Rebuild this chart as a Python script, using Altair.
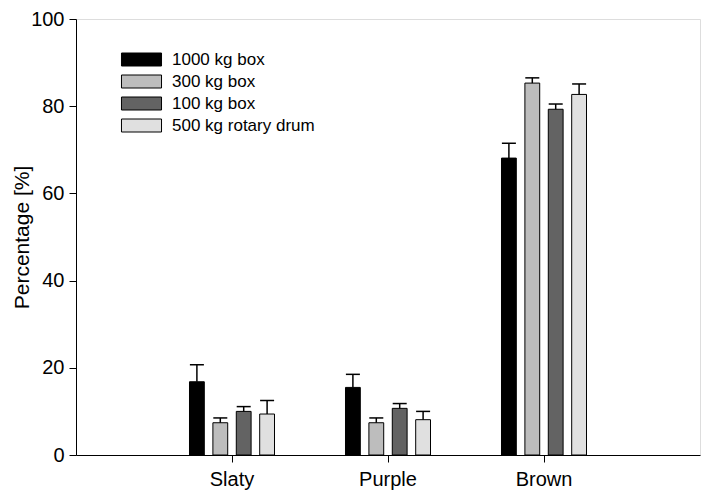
import altair as alt
import pandas as pd

categories = ["Slaty", "Purple", "Brown"]
series = ["1000 kg box", "300 kg box", "100 kg box", "500 kg rotary drum"]
colors = ["#000000", "#bdbdbd", "#636363", "#e0e0e0"]

val_1000 = [16.8, 15.5, 68.1]
err_1000 = [3.9, 3.0, 3.4]
val_300 = [7.4, 7.4, 85.3]
err_300 = [1.1, 1.1, 1.2]
val_100 = [10.0, 10.7, 79.3]
err_100 = [1.1, 1.1, 1.2]
val_500 = [9.4, 8.1, 82.7]
err_500 = [3.1, 1.9, 2.4]

vals = [val_1000, val_300, val_100, val_500]
errs = [err_1000, err_300, err_100, err_500]

rows = []
for s, v, e in zip(series, vals, errs):
    for c, vv, ee in zip(categories, v, e):
        rows.append({"Category": c, "Series": s, "Value": vv, "Upper": vv + ee})
df = pd.DataFrame(rows)

FONT = "Liberation Sans"

x_scale = alt.Scale(domain=categories, paddingInner=0.365, paddingOuter=0.6825)
xoff_scale = alt.Scale(domain=series, paddingInner=0.367, paddingOuter=0.3)

x_enc = alt.X("Category:N", sort=categories, scale=x_scale,
              axis=alt.Axis(title=None, labelAngle=0, labelFontSize=20, labelFont=FONT,
                            labelColor="black", tickSize=7, tickColor="black",
                            domainColor="black", labelPadding=7))
xoff = alt.XOffset("Series:N", sort=series, scale=xoff_scale)
y_scale = alt.Scale(domain=[0, 100], nice=False, zero=True)

bars = alt.Chart(df).mark_bar(stroke="black", strokeWidth=1).encode(
    x=x_enc,
    xOffset=xoff,
    y=alt.Y("Value:Q", scale=y_scale,
            axis=alt.Axis(title="Percentage [%]", values=[0, 20, 40, 60, 80, 100],
                          grid=False, tickSize=7, tickColor="black", domainColor="black",
                          labelFontSize=20, labelFont=FONT, labelColor="black",
                          labelPadding=5, titleFont=FONT, titleFontSize=21,
                          titleFontWeight="normal", titleColor="black",
                          titleX=-44, titleY=218, titleAngle=270,
                          titleBaseline="bottom", titleAlign="center")),
    fill=alt.Fill("Series:N", sort=series,
                  scale=alt.Scale(domain=series, range=colors),
                  legend=alt.Legend(title=None, orient="none", legendX=57, legendY=32,
                                    symbolType="M-3.08,-1H3.08V1H-3.08Z", symbolSize=169,
                                    symbolStrokeColor="black", symbolStrokeWidth=1,
                                    symbolOpacity=1,
                                    labelFont=FONT, labelFontSize=17, labelColor="black",
                                    labelOffset=22, rowPadding=4)),
)

rules = alt.Chart(df).mark_rule(color="black", strokeWidth=1.5).encode(
    x=alt.X("Category:N", sort=categories), xOffset=alt.XOffset("Series:N", sort=series),
    y="Upper:Q", y2="Value:Q",
)
caps = alt.Chart(df).mark_tick(color="black", thickness=1.5, size=14, opacity=1).encode(
    x=alt.X("Category:N", sort=categories), xOffset=alt.XOffset("Series:N", sort=series),
    y="Upper:Q",
)

chart = alt.layer(bars, rules, caps).properties(
    width=624, height=436,
    autosize=alt.AutoSizeParams(type="none"),
    padding={"left": 68, "top": 11, "right": 1, "bottom": 35},
).configure_view(stroke="black", strokeWidth=1).configure(background="white")

chart.save("out.html", embed_options={"renderer": "svg", "actions": False})
